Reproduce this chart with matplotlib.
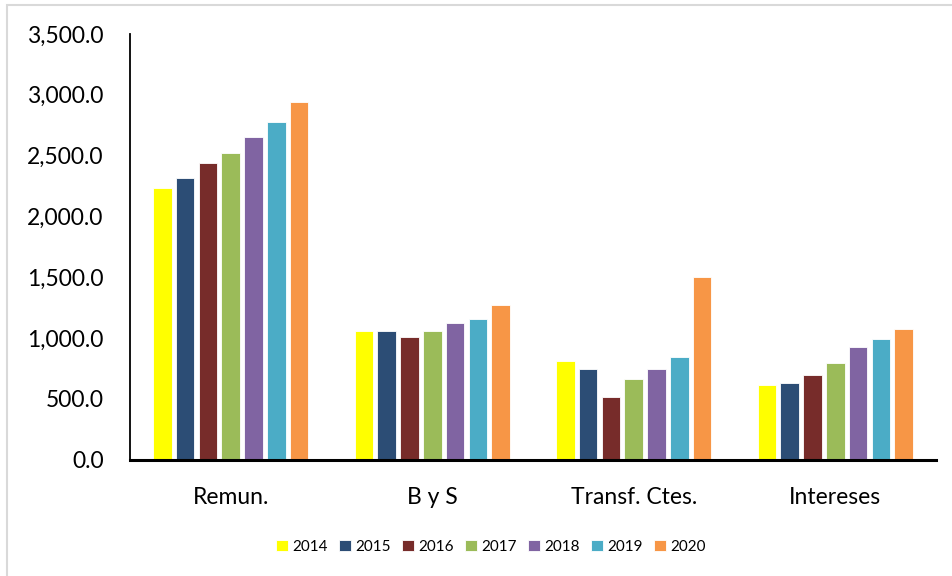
import numpy as np
import matplotlib.pyplot as plt
from matplotlib.patches import Rectangle

# Datos
categorias = ['Remun.', 'B y S', 'Transf. Ctes.', 'Intereses']
anios = ['2014', '2015', '2016', '2017', '2018', '2019', '2020']
v2014 = [2235, 1054, 807, 610]
v2015 = [2317, 1054, 742, 627]
v2016 = [2436, 1005, 511, 692]
v2017 = [2518, 1054, 660, 791]
v2018 = [2650, 1120, 742, 923]
v2019 = [2775, 1153, 840, 988]
v2020 = [2940, 1268, 1498, 1071]
colores = ['#FFFF00', '#2C4D75', '#772C2A', '#9BBB59', '#8064A2', '#4BACC6', '#F79646']

series = [v2014, v2015, v2016, v2017, v2018, v2019, v2020]

plt.rcParams['font.family'] = ['Lato', 'DejaVu Sans']

fig = plt.figure(figsize=(9.52, 5.76), dpi=100)
ax = fig.add_axes([130 / 952, 1 - 459.5 / 576, 806 / 952, 425.5 / 576])

# marco gris del grafico
fig.patches.append(Rectangle((7 / 952, -0.01), 1.0, 1 - 5 / 576 + 0.01,
                             transform=fig.transFigure, fill=False,
                             edgecolor='#D9D9D9', linewidth=1.5))

x = np.arange(len(categorias))
paso = 0.113
ancho = 0.092
for i, (anio, vals, col) in enumerate(zip(anios, series, colores)):
    ax.bar(x + (i - 3) * paso, vals, ancho, color=col, label=anio,
           edgecolor='white', linewidth=0.6)

ax.set_xlim(-0.5, 3.5)
ax.set_ylim(0, 3500)
ax.set_yticks(np.arange(0, 3501, 500))
ax.set_yticklabels([f'{v:,.1f}' for v in np.arange(0, 3501, 500)])
ax.set_xticks(x)
ax.set_xticklabels(categorias)
ax.tick_params(axis='y', length=0, pad=19, labelsize=16.5)
ax.tick_params(axis='x', length=0, pad=20, labelsize=16.5)

for s in ['top', 'right']:
    ax.spines[s].set_visible(False)
ax.spines['left'].set_linewidth(1.3)
ax.spines['bottom'].set_linewidth(2.2)

fig.legend(loc='center', bbox_to_anchor=(491 / 952, 1 - 547 / 576), ncol=7,
           frameon=False, fontsize=11, handlelength=0.75, handleheight=0.75,
           handletextpad=0.3, columnspacing=0.75)

fig.savefig('out.png', dpi=100)
